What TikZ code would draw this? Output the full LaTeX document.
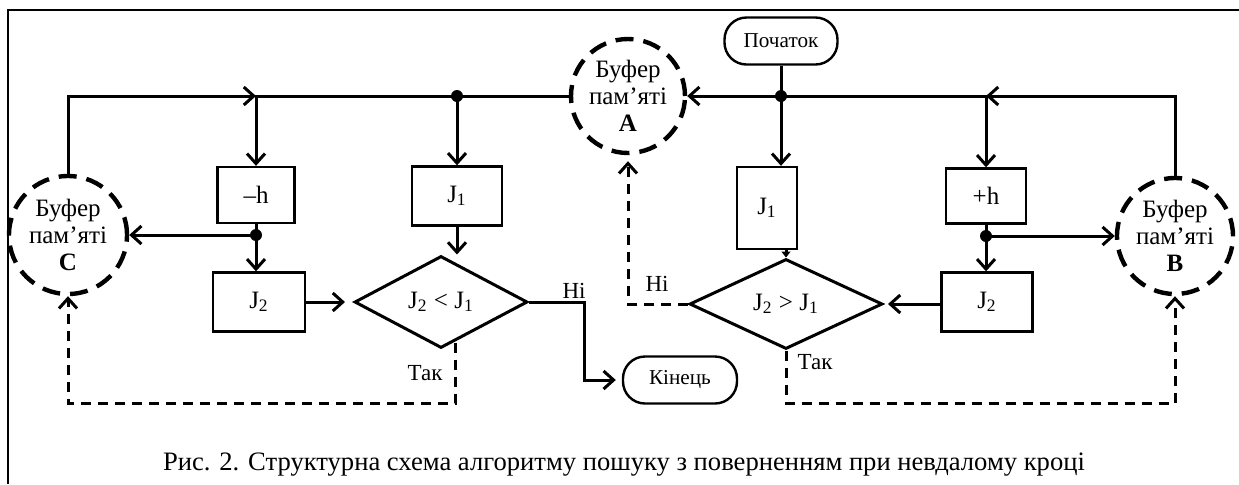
\documentclass[tikz,border=0pt]{standalone}
\usepackage{fontspec}
\setmainfont{Liberation Serif}
\usetikzlibrary{arrows.meta,shapes.geometric,calc}
\begin{document}
\begin{tikzpicture}[x=0.5pt,y=-0.5pt,
  txt/.style={font=\fontsize{12.5}{13.5}\selectfont},
  box/.style={draw,line width=1.2pt,inner sep=0pt,txt},
  term/.style={draw,line width=1.2pt,inner sep=0pt,rounded corners=11pt,font=\fontsize{10.6}{12}\selectfont},
  buf/.style={circle,draw,line width=2.2pt,dash pattern=on 9pt off 5pt,inner sep=0pt,align=center,txt},
  dec/.style={diamond,draw,line width=1.5pt,inner sep=0pt,shape aspect=2,txt},
  wire/.style={line width=1.5pt},
  conn/.style={wire,-{Straight Barb[length=5pt,width=9pt]}},
  dconn/.style={conn,dash pattern=on 5pt off 3.5pt},
  tinyarr/.style={wire,-{Triangle[length=3pt,width=4.5pt]}},
  lbl/.style={inner sep=0pt,font=\fontsize{11.5}{13}\selectfont},
  dotmark/.style={fill,circle,inner sep=0pt,minimum size=6pt}
]
\useasboundingbox (0,0) rectangle (1239,484);
\draw[line width=1pt] (8,484) -- (8,10) -- (1239,10);

% buffers
\node[buf,minimum size=57pt] (A) at (628,96) {Буфер\\пам’яті\\\textbf{A}};
\node[buf,minimum size=59pt] (C) at (68,235) {Буфер\\пам’яті\\\textbf{C}};
\node[buf,minimum size=58pt] (B) at (1175,236) {Буфер\\пам’яті\\\textbf{B}};

% terminals
\node[term,minimum width=56.5pt,minimum height=23.5pt] (start) at (781,41) {Початок};
\node[term,minimum width=57pt,minimum height=23.5pt] (end) at (680,380) {Кінець};

% boxes
\node[box,minimum width=38.5pt,minimum height=28pt] (mh) at (256,195) {\textendash h};
\node[box,minimum width=45pt,minimum height=29.5pt] (J1L) at (457,196) {J\textsubscript{1}};
\node[box,minimum width=46pt,minimum height=29.5pt] (J2L) at (259,302) {J\textsubscript{2}};
\node[box,minimum width=30pt,minimum height=41pt] (J1R) at (767,208) {J\textsubscript{1}};
\node[box,minimum width=40pt,minimum height=27.5pt] (ph) at (986,196) {+h};
\node[box,minimum width=45.5pt,minimum height=29.5pt] (J2R) at (987,302) {J\textsubscript{2}};

% decisions
\node[dec,minimum width=86.5pt,minimum height=46pt] (dL) at (441,302) {J\textsubscript{2} < J\textsubscript{1}};
\node[dec,minimum width=96.5pt,minimum height=45pt] (dR) at (786,304) {J\textsubscript{2} > J\textsubscript{1}};

% helper coordinates
\coordinate (jL) at (mh.north |- A.west);
\coordinate (dotL) at (J1L.north |- A.west);
\coordinate (dotR) at (start.south |- A.east);
\coordinate (jR) at (ph.north |- A.east);
\coordinate (dotC) at (mh.south |- C.east);
\coordinate (dotB) at (ph.south |- B.west);
\coordinate (nL) at ($(dL.east)+(55,0)$);
\coordinate (tL) at ($(dL.south)+(14,-7)$);
\coordinate (low) at (0,403);

% solid connectors
\draw[conn] (C.north) |- (jL);
\draw[conn] (A.west) -| (mh.north);
\draw[conn] (dotL) -- (J1L.north);
\draw[conn] (start.south) -- (start.south |- J1R.north);
\draw[conn] (dotR) -- (A.east);
\draw[conn] (dotR) -| (ph.north);
\draw[conn] (B.north) |- (jR);
\draw[wire] (mh.south) -- (dotC);
\draw[conn] (dotC) -- (C.east);
\draw[conn] (dotC) -- (dotC |- J2L.north);
\draw[wire] (ph.south) -- (dotB);
\draw[conn] (dotB) -- (B.west);
\draw[conn] (dotB) -- (dotB |- J2R.north);
\draw[conn,shorten >=4pt] (J2L.east) -- (J2L.east -| dL.west);
\draw[conn] (J1L.south) -- (J1L.south |- dL.north);
\draw[conn,shorten >=3pt] (dL.east) -- (nL) |- (end.west);
\draw[conn,shorten >=2pt] (J2R.west |- dR.east) -- (dR.east);
\draw[tinyarr] (dR.north |- J1R.south) -- (dR.north);

% dashed connectors
\draw[dconn] (tL) -- (tL |- low) -| (C.south);
\draw[dconn] (dR.south) -- (dR.south |- low) -| (B.south);
\draw[dconn,shorten >=3pt] (dR.west) -| (A.south);

% dots
\node[dotmark] (d1) at (dotL) {};
\node[dotmark] (d2) at (dotR) {};
\node[dotmark] (d3) at (dotC) {};
\node[dotmark] (d4) at (dotB) {};

% labels
\node[lbl] (noL) at (574,291) {Ні};
\node[lbl] (yesL) at (425,373) {Так};
\node[lbl] (noR) at (657,284) {Ні};
\node[lbl] (yesR) at (815,362) {Так};

\node[inner sep=0pt,font=\fontsize{13.3}{15}\selectfont] (cap) at (624,465) {Рис. 2. Структурна схема алгоритму пошуку з поверненням при невдалому кроці};
\end{tikzpicture}
\end{document}
